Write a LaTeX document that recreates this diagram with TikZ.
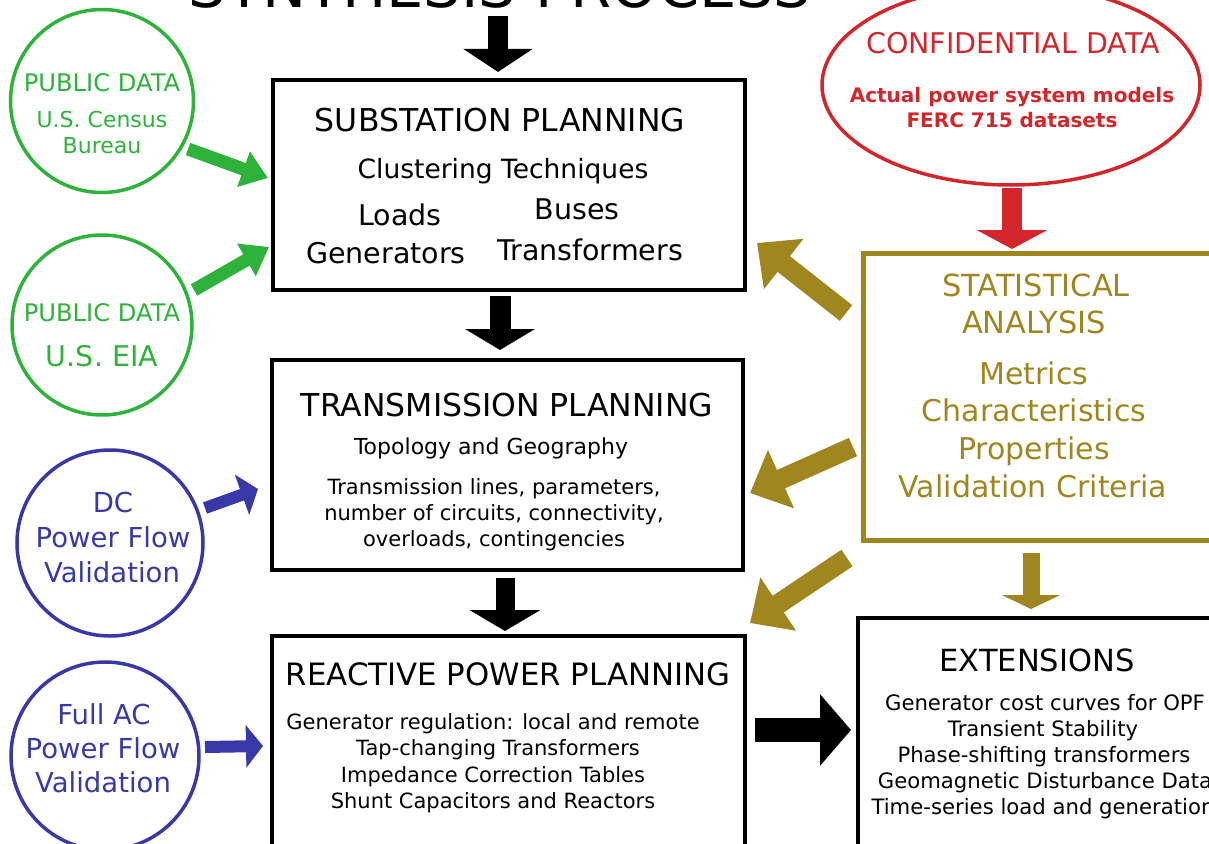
\documentclass[tikz,border=0pt]{standalone}
\usepackage{fontspec}
\setmainfont{DejaVu Sans}
\usetikzlibrary{arrows.meta,calc,shapes.geometric}
\definecolor{pgreen}{HTML}{2DB33A}
\definecolor{pblue}{HTML}{3838A8}
\definecolor{pred}{HTML}{D3262C}
\definecolor{pgold}{HTML}{A0861E}
\tikzset{
  box/.style={draw=black,line width=4pt,minimum width=#1,inner sep=0pt},
  fatarrow/.style n args={4}{draw=#1,line width=#2,-{Triangle[width=#3,length=#4]}},
  t/.style={inner sep=0pt,anchor=base},
  fs/.style={font=\fontsize{#1}{#1}\selectfont},
  fb/.style={font=\bfseries\fontsize{#1}{#1}\selectfont},
}
\begin{document}
\begin{tikzpicture}[x=1pt,y=-1pt]
\useasboundingbox (0,0) rectangle (1209,843);
\clip (0,0) rectangle (1209,843);

% title
\node[t,fs=59] (title) at (500,8) {SYNTHESIS PROCESS};

% boxes
\node[box=472pt,minimum height=210pt] (sub) at (509,185) {};
\node[box=471pt,minimum height=210pt] (trans) at (507.5,465) {};
\node[box=473pt,minimum height=260pt] (react) at (508.5,766) {};
\node[box=360pt,minimum height=260pt] (ext) at (1038,748) {};
\node[draw=pgold,line width=5pt,minimum width=360pt,minimum height=287pt,inner sep=0pt] (stat) at (1043,396.5) {};
\node[draw=pred,line width=3.5pt,ellipse,minimum width=378pt,minimum height=200pt,inner sep=0pt] (conf) at (1011,85) {};
\node[draw=pgreen,line width=3.5pt,circle,minimum size=183pt,inner sep=0pt] (g1) at (102,101) {};
\node[draw=pgreen,line width=3.5pt,circle,minimum size=180pt,inner sep=0pt] (g2) at (102,325) {};
\node[draw=pblue,line width=3.5pt,circle,minimum size=186pt,inner sep=0pt] (b1) at (110,543) {};
\node[draw=pblue,line width=3.5pt,circle,minimum size=188pt,inner sep=0pt] (b2) at (105,756) {};

% substation text
\node[t,fs=31.5] (s1) at (500,131) {SUBSTATION PLANNING};
\node[t,fs=26.5] (s2) at (503,178) {Clustering Techniques};
\node[t,fs=28.5] (s3) at (400,225) {Loads};
\node[t,fs=28.5] (s4) at (577,219) {Buses};
\node[t,fs=28.5] (s5) at (386,263) {Generators};
\node[t,fs=28.5] (s6) at (590,260) {Transformers};

% transmission text
\node[t,fs=31.5] (tr1) at (507,416) {TRANSMISSION PLANNING};
\node[t,fs=22] (tr2) at (491,454) {Topology and Geography};
\node[t,fs=21] (tr3) at (494,494) {Transmission lines, parameters,};
\node[t,fs=21] (tr4) at (494,520) {number of circuits, connectivity,};
\node[t,fs=21] (tr5) at (494,546) {overloads, contingencies};

% reactive text
\node[t,fs=30.8] (r1) at (508,685) {REACTIVE POWER PLANNING};
\node[t,fs=21] (r2) at (493,729) {Generator regulation: local and remote};
\node[t,fs=21] (r3) at (498,755) {Tap-changing Transformers};
\node[t,fs=21] (r4) at (493,782) {Impedance Correction Tables};
\node[t,fs=21] (r5) at (493,808) {Shunt Capacitors and Reactors};

% extensions text
\node[t,fs=30.5] (e1) at (1037,671) {EXTENSIONS};
\node[t,fs=21.2] (e2) at (1045,710) {Generator cost curves for OPF};
\node[t,fs=21.2] (e3) at (1043,736) {Transient Stability};
\node[t,fs=21.2] (e4) at (1044,762) {Phase-shifting transformers};
\node[t,fs=21.2] (e5) at (1045,788) {Geomagnetic Disturbance Data};
\node[t,fs=21.2] (e6) at (1043,814) {Time-series load and generation};

% statistical text
\begin{scope}[every node/.append style={text=pgold}]
\node[t,fs=30.5] (st1) at (1036,296) {STATISTICAL};
\node[t,fs=30.5] (st2) at (1034,333) {ANALYSIS};
\node[t,fs=30] (st3) at (1034,384) {Metrics};
\node[t,fs=30] (st4) at (1034,421) {Characteristics};
\node[t,fs=30] (st5) at (1034,459) {Properties};
\node[t,fs=30] (st6) at (1033,497) {Validation Criteria};
\end{scope}

% confidential text
\begin{scope}[every node/.append style={text=pred}]
\node[t,fs=28.5] (c1) at (1013,54) {CONFIDENTIAL DATA};
\node[t,fb=20] (c2) at (1012,102) {Actual power system models};
\node[t,fb=20] (c3) at (1012,127) {FERC 715 datasets};
\end{scope}

% circle texts
\begin{scope}[every node/.append style={text=pgreen}]
\node[t,fs=24.2] (g1a) at (102,91) {PUBLIC DATA};
\node[t,fs=22] (g1b) at (102,127) {U.S. Census};
\node[t,fs=22] (g1c) at (102,153) {Bureau};
\node[t,fs=24.2] (g2a) at (102,321) {PUBLIC DATA};
\node[t,fs=28.5] (g2b) at (102,366) {U.S. EIA};
\end{scope}
\begin{scope}[every node/.append style={text=pblue}]
\node[t,fs=27.5] (b1a) at (113,512) {DC};
\node[t,fs=27.5] (b1b) at (113,547) {Power Flow};
\node[t,fs=27.5] (b1c) at (112,582) {Validation};
\node[t,fs=27.5] (b2a) at (104,724) {Full AC};
\node[t,fs=27.5] (b2b) at (103,758) {Power Flow};
\node[t,fs=27.5] (b2c) at (103,792) {Validation};
\end{scope}

% connector end points
\coordinate (a0s) at (498,16);   \coordinate (a0e) at (498,72);
\coordinate (a1s) at (500,296);  \coordinate (a1e) at (500,350);
\coordinate (a2s) at (505,578);  \coordinate (a2e) at (505,631);
\coordinate (a3s) at (755,730);  \coordinate (a3e) at (851,730);
\coordinate (ars) at (1012,188); \coordinate (are) at (1012,249);
\coordinate (gds) at (1031,553); \coordinate (gde) at (1031,609);
\coordinate (gas) at (846,313);  \coordinate (gae) at (757,243);
\coordinate (gbs) at (853,447);  \coordinate (gbe) at (750,493);
\coordinate (gcs) at (847,558);  \coordinate (gce) at (750,623);
\coordinate (p1s) at (188,149);  \coordinate (p1e) at (268,178);
\coordinate (p2s) at (194,290);  \coordinate (p2e) at (269,247);
\coordinate (q1s) at (205,508);  \coordinate (q1e) at (258,489);
\coordinate (q2s) at (205,747);  \coordinate (q2e) at (263,746);

% arrows
\draw[fatarrow={black}{20pt}{68pt}{23pt}] (a0s) -- (a0e);
\draw[fatarrow={black}{21pt}{69pt}{21pt}] (a1s) -- (a1e);
\draw[fatarrow={black}{19pt}{70pt}{21pt}] (a2s) -- (a2e);
\draw[fatarrow={black}{24pt}{70pt}{31pt}] (a3s) -- (a3e);
\draw[fatarrow={pred}{20pt}{70pt}{19pt}] (ars) -- (are);
\draw[fatarrow={pgold}{17pt}{58pt}{14pt}] (gds) -- (gde);
\draw[fatarrow={pgold}{20pt}{62pt}{34pt}] (gas) -- (gae);
\draw[fatarrow={pgold}{20pt}{62pt}{34pt}] (gbs) -- (gbe);
\draw[fatarrow={pgold}{20pt}{62pt}{34pt}] (gcs) -- (gce);
\draw[fatarrow={pgreen}{13pt}{36pt}{26pt}] (p1s) -- (p1e);
\draw[fatarrow={pgreen}{13pt}{36pt}{26pt}] (p2s) -- (p2e);
\draw[fatarrow={pblue}{12pt}{42pt}{17pt}] (q1s) -- (q1e);
\draw[fatarrow={pblue}{12pt}{42pt}{17pt}] (q2s) -- (q2e);
\end{tikzpicture}
\end{document}
